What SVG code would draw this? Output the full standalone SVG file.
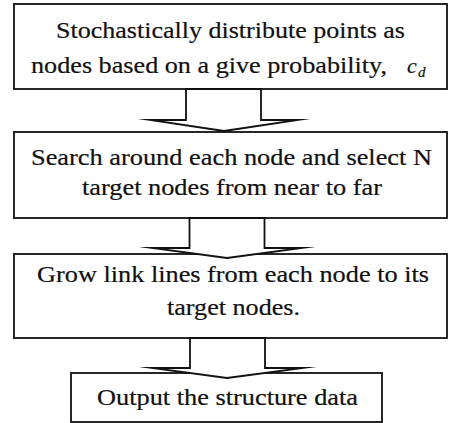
<svg xmlns="http://www.w3.org/2000/svg" width="449" height="423" viewBox="0 0 449 423">
  <style>
    .box { fill: #ffffff; stroke: #111111; stroke-width: 1.8; }
    .label { font-family: "Liberation Serif", "Times New Roman", serif; font-size: 24px; fill: #111111; stroke: #111111; stroke-width: 0.2; }
    .math { font-family: "Liberation Serif", "Times New Roman", serif; font-style: italic; fill: #111111; stroke: #111111; stroke-width: 0.2; }
    .flow { fill: #ffffff; stroke: #111111; stroke-width: 1.8; stroke-linejoin: miter; stroke-miterlimit: 20; }
  </style>
  <rect width="449" height="423" fill="#ffffff"/>

  <g id="node-distribute">
    <rect class="box" x="14" y="4" width="433" height="85"/>
    <text class="label" x="56" y="38" textLength="349" lengthAdjust="spacingAndGlyphs">Stochastically distribute points as</text>
    <text class="label" x="31" y="73" textLength="356" lengthAdjust="spacingAndGlyphs">nodes based on a give probability,</text>
    <text class="math" x="407" y="73" font-size="22">c</text>
    <text class="math" x="418" y="77" font-size="15">d</text>
  </g>

  <g id="node-search">
    <rect class="box" x="14" y="132" width="433" height="86"/>
    <text class="label" x="31" y="165" textLength="401" lengthAdjust="spacingAndGlyphs">Search around each node and select N</text>
    <text class="label" x="82" y="195" textLength="300" lengthAdjust="spacingAndGlyphs">target nodes from near to far</text>
  </g>

  <g id="node-grow">
    <rect class="box" x="14" y="254" width="433" height="84"/>
    <text class="label" x="37" y="282" textLength="392" lengthAdjust="spacingAndGlyphs">Grow link lines from each node to its</text>
    <text class="label" x="167" y="315" textLength="133" lengthAdjust="spacingAndGlyphs">target nodes.</text>
  </g>

  <g id="node-output">
    <rect class="box" x="71" y="373" width="311" height="49"/>
    <text class="label" x="97" y="405" textLength="261" lengthAdjust="spacingAndGlyphs">Output the structure data</text>
  </g>

  <!-- hollow block arrows between consecutive steps -->
  <g id="connectors">
    <polygon class="flow" points="186,89 186,120 150,120 224,131 298,120 261,120 261,89"/>
    <polygon class="flow" points="189.5,218 189.5,248 152,248 227,258 302,248 264.5,248 264.5,218"/>
    <polygon class="flow" points="190,338 190,368 152,368 227,378 303,368 265,368 265,338"/>
  </g>
</svg>
